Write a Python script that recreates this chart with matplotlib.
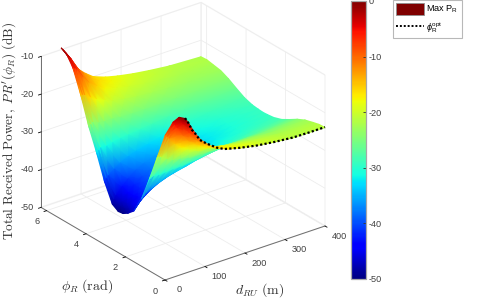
import numpy as np
import matplotlib
matplotlib.use("Agg")
import matplotlib.pyplot as plt
from matplotlib.cm import ScalarMappable
from matplotlib.colors import Normalize
from matplotlib.lines import Line2D
from matplotlib.patches import Patch
from mpl_toolkits.mplot3d import proj3d

plt.rcParams['font.family'] = ['Liberation Sans', 'DejaVu Sans']
plt.rcParams['axes.unicode_minus'] = False
plt.rcParams['mathtext.fontset'] = 'custom'
plt.rcParams['mathtext.rm'] = 'Liberation Sans'
plt.rcParams['mathtext.it'] = 'Liberation Sans:italic'

d_ru = [50, 55, 60, 75, 90, 110, 130, 160, 190, 230, 270, 320, 400]
phi_r = [0, 0.3, 0.6, 1.0, 1.4, 1.8, 2.2, 2.6, 2.9, 3.14, 3.38, 3.68, 4.08, 4.48, 4.88, 5.28, 5.68, 5.98, 6.28]
# one row per phi_r, one column per d_ru
power_db = [
    [-9.0, -9.9, -10.8, -13.8, -16.2, -18.2, -19.8, -21.0, -21.8, -22.6, -23.2, -23.8, -23.9],
    [-9.6, -10.6, -11.6, -14.5, -16.8, -18.7, -20.2, -21.3, -22.1, -22.8, -23.4, -24.0, -24.0],
    [-11.8, -12.7, -13.6, -16.2, -18.2, -19.9, -21.3, -22.2, -22.9, -23.5, -24.0, -24.4, -24.4],
    [-16.5, -17.0, -17.6, -19.6, -21.1, -22.3, -23.4, -24.0, -24.4, -24.8, -25.0, -25.3, -25.0],
    [-23.5, -23.6, -23.7, -24.8, -25.6, -25.9, -26.4, -26.6, -26.6, -26.6, -26.5, -26.5, -26.0],
    [-30.5, -30.2, -30.0, -30.2, -30.1, -29.9, -29.9, -29.6, -29.2, -28.7, -28.4, -28.0, -27.3],
    [-37.0, -36.4, -35.8, -35.1, -34.4, -33.6, -33.0, -32.3, -31.5, -30.7, -30.0, -29.2, -28.5],
    [-41.5, -40.7, -40.0, -38.6, -37.3, -35.9, -34.9, -33.9, -32.8, -31.9, -31.0, -30.1, -29.2],
    [-43.0, -42.0, -41.0, -39.6, -38.2, -36.8, -35.8, -34.6, -33.4, -32.3, -31.3, -30.4, -29.4],
    [-43.8, -42.7, -41.6, -40.0, -38.5, -37.0, -36.0, -34.8, -33.6, -32.5, -31.5, -30.5, -29.5],
    [-44.0, -42.9, -41.8, -40.0, -38.4, -36.9, -35.8, -34.6, -33.4, -32.3, -31.3, -30.4, -29.4],
    [-43.0, -42.0, -41.0, -39.2, -37.6, -36.0, -35.0, -33.9, -32.8, -31.9, -31.0, -30.1, -29.2],
    [-38.2, -37.6, -37.0, -35.8, -34.7, -33.7, -33.0, -32.3, -31.5, -30.7, -30.0, -29.2, -28.5],
    [-31.8, -31.3, -30.8, -30.9, -30.5, -30.1, -29.9, -29.6, -29.2, -28.7, -28.4, -28.0, -27.3],
    [-26.0, -25.7, -25.3, -26.0, -26.2, -26.2, -26.5, -26.6, -26.6, -26.6, -26.5, -26.5, -26.0],
    [-19.0, -19.2, -19.4, -20.6, -21.6, -22.5, -23.4, -24.0, -24.4, -24.8, -25.0, -25.3, -25.0],
    [-13.0, -13.4, -13.8, -16.4, -18.4, -20.0, -21.4, -22.3, -23.0, -23.6, -24.1, -24.5, -24.6],
    [-10.5, -11.2, -11.9, -14.7, -17.0, -18.9, -20.3, -21.4, -22.2, -23.0, -23.6, -24.1, -24.3],
    [-9.5, -10.2, -11.0, -14.0, -16.4, -18.4, -20.0, -21.2, -22.0, -22.8, -23.4, -24.0, -24.4],
]
d_opt = [50, 55, 60, 67, 75, 87, 100, 112, 130, 148, 188, 230, 272, 320, 360, 400]
phi_opt = [0, 0, 0, 0, 0, 0, 0, 0, 0, 0, 0, 0, 0, 0, 0, 0]
power_opt = [-8.9, -9.8, -10.8, -12.6, -13.8, -16.0, -17.2, -18.2, -19.6, -20.6, -21.7, -22.6, -23.2, -23.7, -23.8, -23.8]

d_ticks = [0, 100, 200, 300, 400]
phi_ticks = [0, 2, 4, 6]
z_ticks = [-50, -40, -30, -20, -10]
cbar_ticks = [-50, -40, -30, -20, -10, 0]

W, H = 485, 299
fig = plt.figure(figsize=(W / 100, H / 100), dpi=100)
ax = fig.add_axes([0, 0, 1, 1], projection='3d', proj_type='ortho')
ax.view_init(elev=26.4, azim=-127.2)
ax.set_xlim(0, 400, view_margin=0)
ax.set_ylim(0, 6.28, view_margin=0)
ax.set_zlim(-50, -10, view_margin=0)
box = (200.9, 205.0, 168.6)
ax.set_box_aspect(box)
ax.set_xticks(d_ticks)
ax.set_yticks(phi_ticks)
ax.set_zticks(z_ticks)
ax.set_xticklabels([])
ax.set_yticklabels([])
ax.set_zticklabels([])
for axis in (ax.xaxis, ax.yaxis, ax.zaxis):
    axis.pane.set_facecolor('white')
    axis.pane.set_edgecolor('#f0f0f0')
    axis.line.set_color('#6e6e6e')
    axis.line.set_linewidth(0.7)
    axis._axinfo['grid'].update(color='#ededed', linewidth=0.6)
    axis._axinfo['tick'].update(inward_factor=0.2, outward_factor=0.0, color='#555555')
    axis._axinfo['tick']['linewidth'] = {True: 0.6, False: 0.6}


def screen(x, y, z):
    tx, ty, _ = proj3d.proj_transform(np.ravel(x), np.ravel(y), np.ravel(z), ax.get_proj())
    p = ax.transData.transform(np.c_[tx, ty])
    return p[:, 0], H - p[:, 1]


# fit the box to the corners seen in the picture
zoom = 1.0
for i in range(3):
    fig.canvas.draw()
    sx, sy = screen([0, 400], [0, 0], [-50, -50])
    zoom *= 160.0 / (sx[1] - sx[0])
    ax.set_box_aspect(box, zoom=zoom)
    fig.canvas.draw()
    sx, sy = screen([0], [0], [-50])
    pos = ax.get_position(original=True)
    ax.set_position([pos.x0 + (165 - sx[0]) / W, pos.y0 - (280 - sy[0]) / H, pos.width, pos.height])
fig.canvas.draw()

over = fig.add_axes([0, 0, 1, 1], facecolor='none')
over.set_axis_off()

D, P = np.meshgrid(d_ru, phi_r)
Z = np.array(power_db)
sx, sy = screen(D, P, Z)
sx = sx.reshape(Z.shape)[::-1, ::-1]
sy = sy.reshape(Z.shape)[::-1, ::-1]
over.pcolormesh(sx, sy, Z[::-1, ::-1], shading='gouraud', cmap='jet', vmin=-44, vmax=-9)

ox, oy = screen(d_opt, phi_opt, power_opt)
over.plot(ox, oy, color='black', lw=1.6, ls=(0, (1, 1)))

over.set_xlim(0, W)
over.set_ylim(H, 0)

tick_col = '#404040'
for t in d_ticks:
    x0, y0 = screen([t], [0], [-50])
    over.text(x0[0] + 14, y0[0] + 10, str(t), fontsize=6.6, color=tick_col, ha='center', va='center')
for t in phi_ticks:
    x0, y0 = screen([0], [t], [-50])
    over.text(x0[0] - 10, y0[0] + 11, str(t), fontsize=6.6, color=tick_col, ha='center', va='center')
for t in z_ticks:
    x0, y0 = screen([0], [6.28], [t])
    over.text(x0[0] - 7, y0[0], str(t), fontsize=6.6, color=tick_col, ha='right', va='center')

over.text(9, 131, r'$\mathrm{Total\ Received\ Power,}\ PR^{\prime}(\phi_R)\ (\mathrm{dB})$',
          rotation=90, fontsize=9.55, color='#303030', ha='center', va='center', math_fontfamily='cm')
over.text(87, 286, r'$\phi_R\ (\mathrm{rad})$', fontsize=10, color='#303030',
          ha='center', va='center', math_fontfamily='cm')
over.text(260, 290, r'$d_{RU}\ (\mathrm{m})$', fontsize=10, color='#303030',
          ha='center', va='center', math_fontfamily='cm')

cax = fig.add_axes([351 / W, 1 - 279 / H, 15 / W, 278 / H])
cb = fig.colorbar(ScalarMappable(Normalize(-50, 0), cmap='jet'), cax=cax, ticks=cbar_ticks)
cb.ax.set_yticklabels([str(t) for t in cbar_ticks])
cb.ax.tick_params(direction='in', length=2.5, width=0.6, color='#333333', labelsize=6.6,
                  labelcolor=tick_col, pad=2)
cb.outline.set_edgecolor('#a8a8a8')
cb.outline.set_linewidth(0.9)

handles = [Patch(facecolor='#7f0000', edgecolor='#909090', lw=0.6, label=r'Max P$_{\mathrm{R}}$'),
           Line2D([0], [0], color='black', lw=1.4, ls=(0, (1, 1)),
                  label=r'$\phi_{\mathrm{R}}^{\mathrm{opt}}$')]
leg = over.legend(handles=handles, loc='upper left', bbox_to_anchor=(393 / W, 1.0), bbox_transform=fig.transFigure,
                  fontsize=6.6, fancybox=False, framealpha=1, edgecolor='#b8b8b8', borderaxespad=0,
                  handlelength=3.05, handleheight=1.55, handletextpad=0.25, borderpad=0.35, labelspacing=0.45)
leg.get_frame().set_linewidth(0.8)

fig.savefig('out.png', dpi=100)
